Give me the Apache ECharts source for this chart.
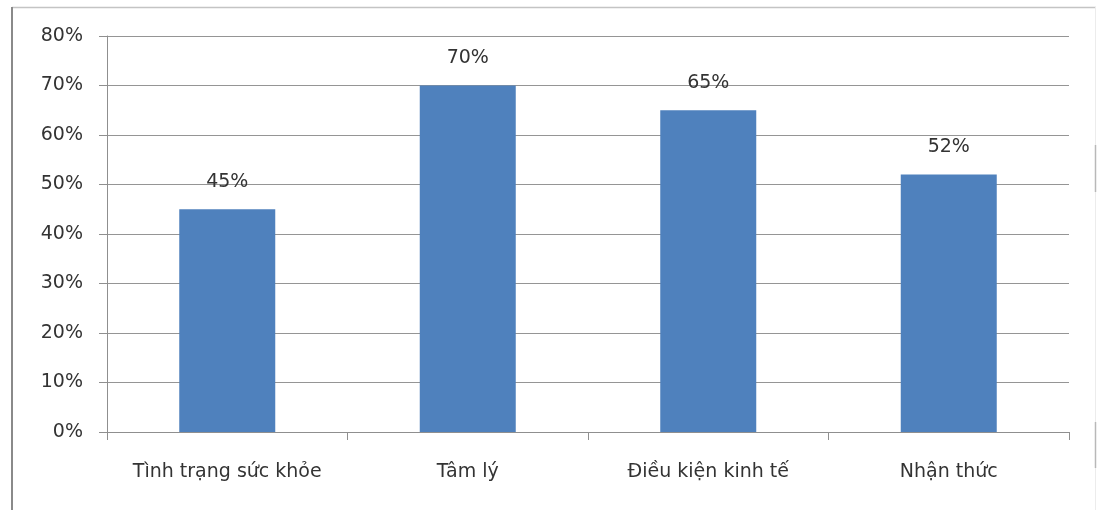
<!DOCTYPE html>
<html>
<head>
<meta charset="utf-8">
<script src="https://cdn.jsdelivr.net/npm/echarts@6/dist/echarts.min.js"></script>
<style>
  html, body { margin: 0; padding: 0; background: #ffffff; }
  #chart { width: 1098px; height: 510px; }
</style>
</head>
<body>
<div id="chart"></div>
<script>
// Factor categories and their shares (percent)
const categories = ['Tình trạng sức khỏe', 'Tâm lý', 'Điều kiện kinh tế', 'Nhận thức'];
const shares = [45, 70, 65, 52];
const yTicks = [0, 10, 20, 30, 40, 50, 60, 70, 80];

const textColor = '#333333';
const lineColor = '#8f8f8f';
const font = 'DejaVu Sans';

const chart = echarts.init(document.getElementById('chart'), null, { renderer: 'canvas' });

chart.setOption({
  animation: false,
  backgroundColor: '#ffffff',
  graphic: [
    // outer frame: light top/right edges, darker left edge
    {
      type: 'line',
      shape: { x1: 12, y1: 7.5, x2: 1096, y2: 7.5 },
      style: { stroke: '#c4c4c4', lineWidth: 1.5 },
      silent: true
    },
    {
      type: 'line',
      shape: { x1: 1095.5, y1: 7, x2: 1095.5, y2: 510 },
      style: { stroke: '#ececec', lineWidth: 1 },
      silent: true
    },
    {
      type: 'line',
      shape: { x1: 1095.5, y1: 145, x2: 1095.5, y2: 192 },
      style: { stroke: '#b8b8b8', lineWidth: 1.5 },
      silent: true
    },
    {
      type: 'line',
      shape: { x1: 1095.5, y1: 422, x2: 1095.5, y2: 468 },
      style: { stroke: '#b8b8b8', lineWidth: 1.5 },
      silent: true
    },
    {
      type: 'line',
      shape: { x1: 12, y1: 7, x2: 12, y2: 510 },
      style: { stroke: '#8a8a8a', lineWidth: 2 },
      silent: true
    }
  ],
  grid: { left: 107, right: 29, top: 36, bottom: 78, containLabel: false },
  xAxis: {
    type: 'category',
    data: categories,
    boundaryGap: true,
    axisLine: { show: true, lineStyle: { color: lineColor, width: 1 } },
    axisTick: { show: true, length: 8, alignWithLabel: false, lineStyle: { color: lineColor } },
    axisLabel: { color: textColor, fontFamily: font, fontSize: 19, margin: 31, interval: 0 },
    splitLine: { show: false }
  },
  yAxis: {
    type: 'value',
    min: yTicks[0],
    max: yTicks[yTicks.length - 1],
    interval: 10,
    axisLine: { show: true, lineStyle: { color: lineColor, width: 1 } },
    axisTick: { show: true, length: 8, lineStyle: { color: lineColor } },
    axisLabel: {
      color: textColor, fontFamily: font, fontSize: 19, margin: 24,
      formatter: v => v + '%'
    },
    splitLine: { show: true, lineStyle: { color: '#959595', width: 1 } }
  },
  series: [{
    type: 'bar',
    data: shares,
    barWidth: 96,
    itemStyle: { color: '#4f81bd' },
    label: {
      show: true,
      position: 'top',
      distance: 18,
      color: textColor,
      fontFamily: font,
      fontSize: 19,
      formatter: p => p.value + '%'
    }
  }]
});
</script>
</body>
</html>
